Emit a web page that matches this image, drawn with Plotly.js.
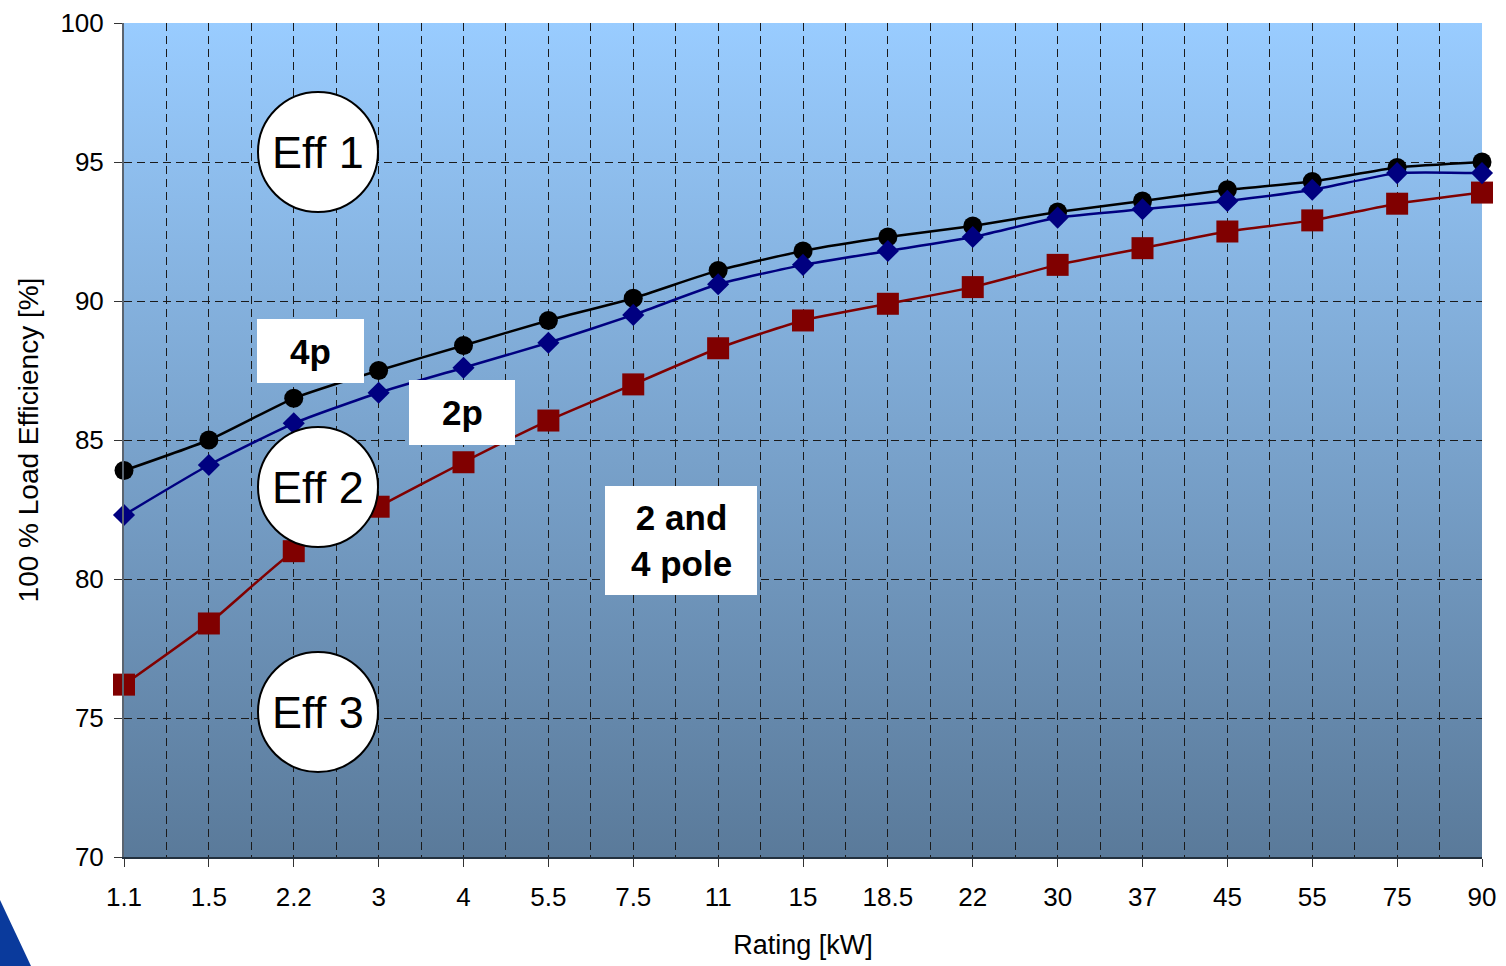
<!DOCTYPE html>
<html>
<head>
<meta charset="utf-8">
<script src="https://cdn.plot.ly/plotly-3.0.1.min.js"></script>
<style>html,body{margin:0;padding:0;background:#fff;}#chart{width:1506px;height:966px;}</style>
</head>
<body>
<div id="chart"></div>
<script>
// ---- data ----
const ratings = ["1.1","1.5","2.2","3","4","5.5","7.5","11","15","18.5","22","30","37","45","55","75","90"];
const eff4p  = [83.9,85.0,86.5,87.5,88.4,89.3,90.1,91.1,91.8,92.3,92.7,93.2,93.6,94.0,94.3,94.8,95.0];
const eff2p  = [82.3,84.1,85.6,86.7,87.6,88.5,89.5,90.6,91.3,91.8,92.3,93.0,93.3,93.6,94.0,94.6,94.6];
const eff3   = [76.2,78.4,81.0,82.6,84.2,85.7,87.0,88.3,89.3,89.9,90.5,91.3,91.9,92.5,92.9,93.5,93.9];
const yTicks = [70,75,80,85,90,95,100];
const circleLabels = ["Eff 1","Eff 2","Eff 3"];
const boxLabels = ["4p","2p","2 and<br>4 pole"];

// ---- layout helpers (pixel -> paper) ----
const L=124, R=1482, T=23, B=857, W=R-L, H=B-T;
const px = x => (x-L)/W;
const py = y => (B-y)/H;
const FONT = "Liberation Sans, Arial, Helvetica, sans-serif";

const circleCenters = [[318,152],[318,487],[318,712]];
const boxRects = [[257,319,364,383],[409,380,515,445],[605,486,757,595]];

const shapes = [];
const annotations = [];
circleCenters.forEach((c,i)=>{
  shapes.push({type:'circle', xref:'paper', yref:'paper', layer:'above',
    x0:px(c[0]-60), x1:px(c[0]+60), y0:py(c[1]+60), y1:py(c[1]-60),
    fillcolor:'#ffffff', line:{color:'#000000', width:2}});
  annotations.push({xref:'paper', yref:'paper', x:px(c[0]), y:py(c[1]), text:circleLabels[i],
    showarrow:false, xanchor:'center', yanchor:'middle', font:{family:FONT, size:45, color:'#000'}});
});
boxRects.forEach((b,i)=>{
  shapes.push({type:'rect', xref:'paper', yref:'paper', layer:'above',
    x0:px(b[0]), x1:px(b[2]), y0:py(b[3]), y1:py(b[1]),
    fillcolor:'#ffffff', line:{width:0}});
  annotations.push({xref:'paper', yref:'paper', x:px((b[0]+b[2])/2), y:py((b[1]+b[3])/2), text:boxLabels[i],
    showarrow:false, xanchor:'center', yanchor:'middle', align:'center',
    font:{family:FONT, size:35, color:'#000', weight:700}});
});
// corner logo fragment
shapes.push({type:'path', xref:'paper', yref:'paper', layer:'above',
  path:`M ${px(0)} ${py(900)} L ${px(31)} ${py(966)} L ${px(0)} ${py(966)} Z`,
  fillcolor:'#0a3a9c', line:{width:0}});

const gradSvg = '<svg xmlns="http://www.w3.org/2000/svg" width="100" height="100" preserveAspectRatio="none">'+
  '<defs><linearGradient id="g" x1="0" y1="0" x2="0" y2="1">'+
  '<stop offset="0" stop-color="#99CCFF"/><stop offset="1" stop-color="#5A7A9A"/></linearGradient></defs>'+
  '<rect width="100" height="100" fill="url(#g)"/></svg>';

const traces = [
  {x:ratings, y:eff3, name:'Eff 3', type:'scatter', mode:'lines+markers', cliponaxis:false,
   line:{color:'#800000', width:2.5, shape:'spline', smoothing:0.5},
   marker:{symbol:'square', size:22, color:'#800000'}},
  {x:ratings, y:eff4p, name:'4p', type:'scatter', mode:'lines+markers', cliponaxis:false,
   line:{color:'#000000', width:2.5, shape:'spline', smoothing:0.5},
   marker:{symbol:'circle', size:19, color:'#000000'}},
  {x:ratings, y:eff2p, name:'2p', type:'scatter', mode:'lines+markers', cliponaxis:false,
   line:{color:'#000080', width:2.5, shape:'spline', smoothing:0.5},
   marker:{symbol:'diamond', size:17, color:'#000080'}},
  // helper trace carrying the secondary category axis (grid between categories)
  {x:ratings, y:eff4p, xaxis:'x2', type:'scatter', mode:'none', hoverinfo:'skip', showlegend:false}
];

const layout = {
  width:1506, height:966,
  margin:{l:L, r:1506-R, t:T, b:966-B, pad:0},
  paper_bgcolor:'#ffffff', plot_bgcolor:'rgba(0,0,0,0)',
  showlegend:false,
  font:{family:FONT, color:'#000'},
  images:[{source:'data:image/svg+xml;charset=utf-8,'+encodeURIComponent(gradSvg),
    xref:'paper', yref:'paper', x:0, y:1, sizex:1, sizey:1, xanchor:'left', yanchor:'top',
    sizing:'stretch', layer:'below'}],
  xaxis:{type:'category', categoryorder:'array', categoryarray:ratings,
    range:[0, ratings.length-1], autorange:false,
    showgrid:true, gridcolor:'#1a1a1a', gridwidth:1, griddash:'8px,5px',
    showline:true, linecolor:'#22303e', linewidth:2,
    ticks:'outside', ticklen:8, tickcolor:'#333', tickwidth:1,
    tickfont:{family:FONT, size:26, color:'#000'}, ticklabelstandoff:8,
    title:{text:'Rating [kW]', font:{family:FONT, size:27, color:'#000'}, standoff:24},
    zeroline:false, fixedrange:true, automargin:false},
  xaxis2:{type:'category', categoryorder:'array', categoryarray:ratings, overlaying:'x',
    range:[0, ratings.length-1], autorange:false, tickson:'boundaries',
    showgrid:true, gridcolor:'#1a1a1a', gridwidth:1, griddash:'8px,5px',
    showticklabels:false, ticks:'', showline:false, zeroline:false, automargin:false},
  yaxis:{range:[70,100], autorange:false, tickvals:yTicks, ticktext:yTicks.map(String),
    showgrid:true, gridcolor:'#1a1a1a', gridwidth:1, griddash:'8px,5px',
    showline:true, linecolor:'#5a6470', linewidth:2,
    ticks:'outside', ticklen:8, tickcolor:'#333', tickwidth:1,
    tickfont:{family:FONT, size:26, color:'#000'}, ticklabelstandoff:5,
    title:{text:'100 % Load Efficiency [%]', font:{family:FONT, size:28, color:'#000'}, standoff:14},
    zeroline:false, fixedrange:true, automargin:false},
  shapes:shapes,
  annotations:annotations
};

Plotly.newPlot('chart', traces, layout, {displayModeBar:false, staticPlot:true});
</script>
</body>
</html>
